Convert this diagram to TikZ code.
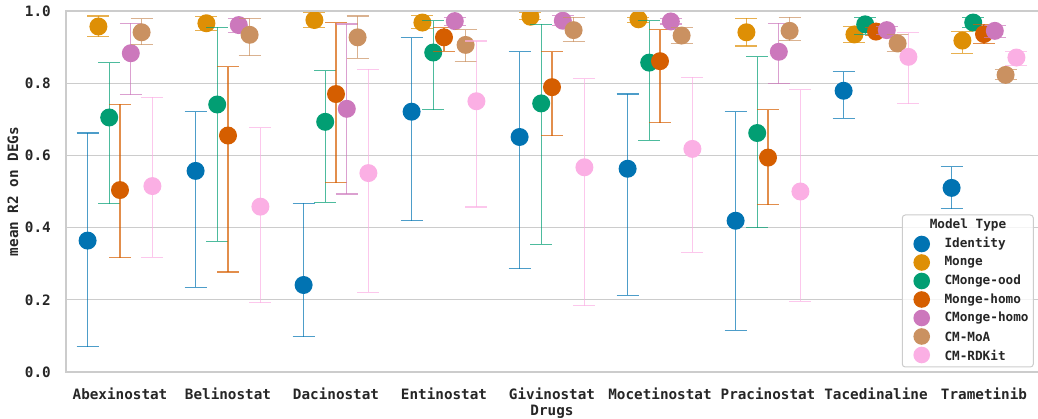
\documentclass[tikz,border=0pt]{standalone}
\usepackage{fontspec}
\setmainfont{DejaVu Sans Mono}
\definecolor{cI}{HTML}{0173B2}
\definecolor{cM}{HTML}{DE8F05}
\definecolor{cO}{HTML}{029E73}
\definecolor{cH}{HTML}{D55E00}
\definecolor{cCH}{HTML}{CC78BC}
\definecolor{cMoA}{HTML}{CA9161}
\definecolor{cR}{HTML}{FBAFE4}
\definecolor{txt}{HTML}{262626}
\definecolor{gridc}{HTML}{CCCCCC}
\tikzset{
  ebar/.style={line width=1.1pt, draw opacity=0.7},
  gridline/.style={draw=gridc, line width=1.1pt},
  spine/.style={draw=gridc, line width=1.7pt},
  ticklab/.style={text=txt, font=\fontsize{14.3}{16}\selectfont\bfseries, inner sep=0pt},
  leglab/.style={text=txt, font=\fontsize{12.7}{14}\selectfont\bfseries, inner sep=0pt, anchor=west},
}
\newcommand{\drawseries}[3]{%
  \foreach \c/\m/\l/\h in {#3}{%
    \pgfmathsetmacro{\xx}{\c+(#1-3)*0.1}%
    \draw[ebar, #2] (\xx,\l) ++(-11pt,0pt) -- ++(22pt,0pt);
    \draw[ebar, #2] (\xx,\h) ++(-11pt,0pt) -- ++(22pt,0pt);
    \draw[ebar, #2] (\xx,\l) -- (\xx,\h);
    \fill[#2] (\xx,\m) circle[radius=9pt];
  }%
}
\begin{document}
\begin{tikzpicture}[x=1pt,y=1pt]
\useasboundingbox (0,0) rectangle (1038,419);
% grid
\foreach \k in {1,...,4}{
  \draw[gridline] (66,{47+72.2*\k}) -- (1038,{47+72.2*\k});
}
% data
\begin{scope}
\clip (66,47) rectangle (1038,408);
\begin{scope}[shift={(120,47)}, x=108pt, y=361pt]
\drawseries{0}{cI}{0/0.364/0.070/0.662, 1/0.557/0.235/0.721, 2/0.241/0.098/0.467, 3/0.721/0.419/0.926, 4/0.651/0.286/0.887, 5/0.563/0.212/0.770, 6/0.419/0.116/0.721, 7/0.779/0.703/0.832, 8/0.510/0.452/0.569}
\drawseries{1}{cM}{0/0.957/0.929/0.986, 1/0.966/0.945/0.984, 2/0.975/0.954/0.995, 3/0.968/0.952/0.987, 4/0.984/0.977/0.997, 5/0.977/0.968/0.982, 6/0.941/0.903/0.980, 7/0.935/0.912/0.957, 8/0.918/0.883/0.943}
\drawseries{2}{cO}{0/0.705/0.466/0.857, 1/0.741/0.362/0.955, 2/0.693/0.470/0.834, 3/0.885/0.727/0.973, 4/0.744/0.354/0.963, 5/0.857/0.642/0.973, 6/0.662/0.400/0.873, 7/0.963/0.935/0.982, 8/0.968/0.955/0.982}
\drawseries{3}{cH}{0/0.504/0.316/0.742, 1/0.655/0.277/0.845, 2/0.770/0.524/0.967, 3/0.927/0.889/0.954, 4/0.789/0.655/0.887, 5/0.861/0.690/0.948, 6/0.594/0.463/0.727, 7/0.943/0.931/0.955, 8/0.936/0.909/0.963}
\drawseries{4}{cCH}{0/0.883/0.768/0.966, 1/0.961/0.940/0.980, 2/0.729/0.493/0.964, 3/0.972/0.961/0.982, 4/0.973/0.961/0.987, 5/0.971/0.964/0.980, 6/0.887/0.799/0.966, 7/0.947/0.936/0.958, 8/0.945/0.927/0.961}
\drawseries{5}{cMoA}{0/0.941/0.907/0.979, 1/0.934/0.876/0.978, 2/0.927/0.869/0.986, 3/0.906/0.860/0.948, 4/0.947/0.915/0.982, 5/0.932/0.910/0.954, 6/0.945/0.918/0.982, 7/0.910/0.887/0.934, 8/0.823/0.809/0.839}
\drawseries{6}{cR}{0/0.515/0.318/0.761, 1/0.458/0.192/0.677, 2/0.551/0.221/0.839, 3/0.750/0.457/0.917, 4/0.567/0.184/0.812, 5/0.618/0.332/0.816, 6/0.500/0.196/0.782, 7/0.873/0.743/0.940, 8/0.871/0.850/0.889}
\end{scope}
\end{scope}
% spines
\draw[spine] (1038,408) -- (66,408) -- (66,47) -- (1038,47);
% y ticks
\foreach \v/\n in {0/0.0,1/0.2,2/0.4,3/0.6,4/0.8,5/1.0}{
  \node[ticklab, anchor=east] (yt\v) at (51,{47+72.2*\v}) {\n};
}
% x ticks
\foreach \i/\n in {0/Abexinostat,1/Belinostat,2/Dacinostat,3/Entinostat,4/Givinostat,5/Mocetinostat,6/Pracinostat,7/Tacedinaline,8/Trametinib}{
  \node[ticklab, anchor=base] (xt\i) at ({120+108*\i},19) {\n};
}
\node[ticklab, anchor=base] (xlab) at (552,3.6) {Drugs};
\node[ticklab, rotate=90] (ylab) at (13,227.5) {mean R2 on DEGs};
% legend
\node[draw=gridc, line width=1pt, rounded corners=3pt, fill=white, fill opacity=0.8, minimum width=131pt, minimum height=152pt, inner sep=0pt] (legend) at (967.8,128) {};
\node[leglab, anchor=center] (legtitle) at (968,194) {Model Type};
\foreach \j/\cc/\n in {0/cI/Identity,1/cM/Monge,2/cO/CMonge-ood,3/cH/Monge-homo,4/cCH/CMonge-homo,5/cMoA/CM-MoA,6/cR/CM-RDKit}{
  \fill[\cc] (921.7,{175-18.5*\j}) circle[radius=8.3pt];
  \node[leglab] (leg\j) at (944.3,{175-18.5*\j}) {\n};
}
\end{tikzpicture}
\end{document}
